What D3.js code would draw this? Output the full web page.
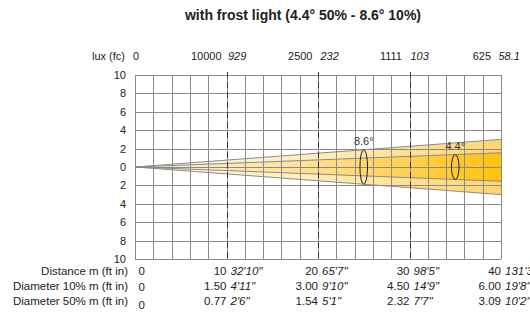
<!DOCTYPE html>
<html><head><meta charset="utf-8">
<script src="https://cdn.jsdelivr.net/npm/d3@7"></script>
<style>body{margin:0;background:#fff}svg{display:block;font-family:Arial,"Liberation Sans",sans-serif}</style>
</head><body><svg id="c" width="530" height="324"></svg>
<script>
// ---- data ----
const title = "with frost light (4.4° 50% - 8.6° 10%)";
const distances = [0, 10, 20, 30, 40];
const distanceFt = ["", "32'10\"", "65'7\"", "98'5\"", "131'3\""];
const luxValues = ["0", "10000", "2500", "1111", "625"];
const fcValues = ["", "929", "232", "103", "58.1"];
const diam10 = ["0", "1.50", "3.00", "4.50", "6.00"];
const diam10Ft = ["", "4'11\"", "9'10\"", "14'9\"", "19'8\""];
const diam50 = ["0", "0.77", "1.54", "2.32", "3.09"];
const diam50Ft = ["", "2'6\"", "5'1\"", "7'7\"", "10'2\""];
const yTicks = [10, 8, 6, 4, 2, 0, -2, -4, -6, -8, -10];
const beam10Half = 3.0;   // half diameter at 40 m (10%)
const beam50Half = 1.545; // half diameter at 40 m (50%)
const ellipses = [{d: 25, half: 1.875, label: "8.6°"}, {d: 35, half: 1.35, label: "4.4°"}];

// ---- layout ----
const svg = d3.select("#c");
const x = d3.scaleLinear().domain([0, 40]).range([135, 501]);
const y = d3.scaleLinear().domain([-10, 10]).range([259, 75]);
const luxDx = [-2, -5, -5.5, -7.5, -10];
const fcDx = [0, 1.5, 2.5, 1, -2.5];
const gridColor = "#8a8a8a";
const textColor = "#222";

svg.append("text").attr("x", 303).attr("y", 19.5).attr("text-anchor", "middle")
  .attr("font-weight", "bold").attr("font-size", 14).attr("fill", textColor).text(title);

// gradients
const defs = svg.append("defs");
const g1 = defs.append("linearGradient").attr("id", "gOuter").attr("gradientUnits", "userSpaceOnUse")
  .attr("x1", x(0)).attr("x2", x(40)).attr("y1", 0).attr("y2", 0);
g1.append("stop").attr("offset", 0).attr("stop-color", "#fff8ea");
g1.append("stop").attr("offset", 0.5).attr("stop-color", "#ffecb8");
g1.append("stop").attr("offset", 1).attr("stop-color", "#ffd56e");
const g2 = defs.append("linearGradient").attr("id", "gInner").attr("gradientUnits", "userSpaceOnUse")
  .attr("x1", x(0)).attr("x2", x(40)).attr("y1", 0).attr("y2", 0);
g2.append("stop").attr("offset", 0).attr("stop-color", "#fff3d8");
g2.append("stop").attr("offset", 0.5).attr("stop-color", "#ffdf8e");
g2.append("stop").attr("offset", 1).attr("stop-color", "#ffc20c");

const line = d3.line().x(d => x(d[0])).y(d => y(d[1]));
svg.append("path").attr("d", line([[0, 0], [40, beam10Half], [40, -beam10Half]]) + "Z").attr("fill", "url(#gOuter)");
svg.append("path").attr("d", line([[0, 0], [40, beam50Half], [40, -beam50Half]]) + "Z").attr("fill", "url(#gInner)");

// grid
const gx = d3.range(0, 41, 2), gy = d3.range(-10, 11, 2);
svg.append("g").selectAll("line").data(gx).join("line")
  .attr("x1", d => Math.round(x(d)) + 0.5).attr("x2", d => Math.round(x(d)) + 0.5)
  .attr("y1", y(10)).attr("y2", y(-10)).attr("stroke", gridColor).attr("stroke-width", 1);
svg.append("g").selectAll("line").data(gy).join("line")
  .attr("y1", d => Math.round(y(d)) + 0.5).attr("y2", d => Math.round(y(d)) + 0.5)
  .attr("x1", x(0)).attr("x2", x(40)).attr("stroke", gridColor).attr("stroke-width", 1);

// beam edges
[beam10Half, beam50Half, -beam50Half, -beam10Half].forEach(h => {
  svg.append("path").attr("d", line([[0, 0], [40, h]])).attr("stroke", gridColor).attr("fill", "none").attr("stroke-width", 1);
});

// dashed distance lines
svg.append("g").selectAll("line").data([10, 20, 30]).join("line")
  .attr("x1", d => Math.round(x(d)) + 0.5).attr("x2", d => Math.round(x(d)) + 0.5)
  .attr("y1", y(10) - 3).attr("y2", y(-10) + 3)
  .attr("stroke", "#333").attr("stroke-width", 1).attr("stroke-dasharray", "6,4");

// ellipses
ellipses.forEach(e => {
  const ry = y(0) - y(e.half);
  svg.append("ellipse").attr("cx", x(e.d)).attr("cy", y(0)).attr("rx", 3.8).attr("ry", ry)
    .attr("fill", "none").attr("stroke", textColor).attr("stroke-width", 1);
  svg.append("text").attr("x", x(e.d)).attr("y", y(0) - ry - 5).attr("text-anchor", "middle")
    .attr("font-size", 11).attr("fill", "#333").text(e.label);
});

// y axis labels
svg.append("g").selectAll("text").data(yTicks).join("text")
  .attr("x", 126).attr("y", d => y(d) + 4).attr("text-anchor", "end")
  .attr("font-size", 11).attr("fill", textColor).text(d => Math.abs(d));

// top lux row
const fsTop = 11, fsBot = 11.5, topY = 60;
svg.append("text").attr("x", 125).attr("y", topY).attr("text-anchor", "end").attr("font-size", fsTop).attr("fill", textColor).text("lux (fc)");
distances.forEach((d, i) => {
  if (i === 0) {
    svg.append("text").attr("x", x(d) + luxDx[i]).attr("y", topY).attr("font-size", fsTop).attr("fill", textColor).text(luxValues[i]);
    return;
  }
  svg.append("text").attr("x", x(d) + luxDx[i]).attr("y", topY).attr("text-anchor", "end").attr("font-size", fsTop).attr("fill", textColor).text(luxValues[i]);
  svg.append("text").attr("x", x(d) + fcDx[i]).attr("y", topY).attr("font-size", fsTop).attr("font-style", "italic").attr("fill", textColor).text(fcValues[i]);
});

// bottom rows
const rows = [
  {label: "Distance m (ft in)", vals: distances.map(String), ft: distanceFt, yb: 275, zeroY: 275},
  {label: "Diameter 10% m (ft in)", vals: diam10, ft: diam10Ft, yb: 290, zeroY: 291},
  {label: "Diameter 50% m (ft in)", vals: diam50, ft: diam50Ft, yb: 305, zeroY: 309}
];
rows.forEach(r => {
  svg.append("text").attr("x", 128).attr("y", r.yb).attr("text-anchor", "end").attr("font-size", fsBot).attr("fill", textColor).text(r.label);
  distances.forEach((d, i) => {
    if (i === 0) {
      svg.append("text").attr("x", 138.5).attr("y", r.zeroY).attr("font-size", fsBot).attr("fill", textColor).text(r.vals[i]);
      return;
    }
    svg.append("text").attr("x", x(d)).attr("y", r.yb).attr("text-anchor", "end").attr("font-size", fsBot).attr("fill", textColor).text(r.vals[i]);
    svg.append("text").attr("x", x(d) + 4).attr("y", r.yb).attr("font-size", fsBot).attr("font-style", "italic").attr("fill", textColor).text(r.ft[i]);
  });
});
</script></body></html>
